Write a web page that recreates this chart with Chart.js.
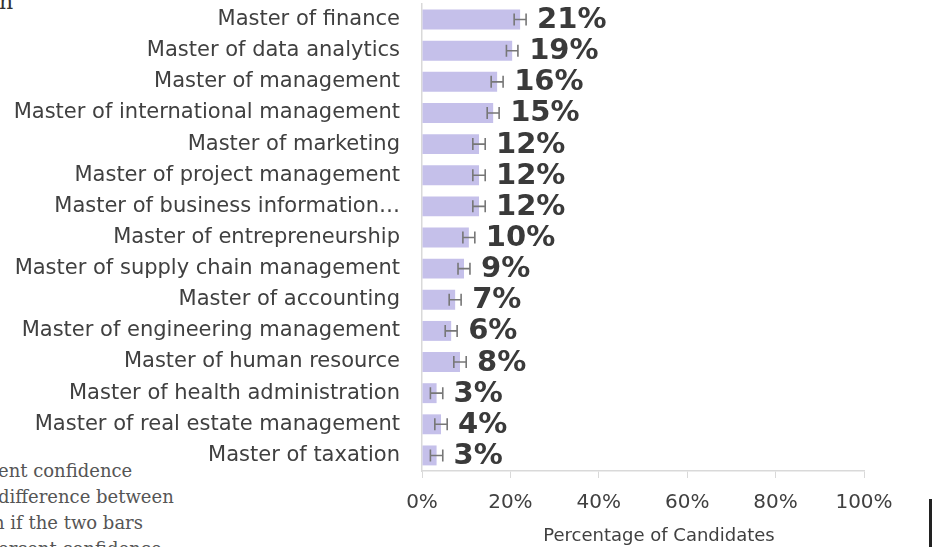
<!DOCTYPE html>
<html>
<head>
<meta charset="utf-8">
<script src="https://cdn.jsdelivr.net/npm/chart.js@4.4.1/dist/chart.umd.min.js"></script>
<style>
  html, body { margin: 0; padding: 0; background: #fff; }
  #wrap { position: relative; width: 932px; height: 547px; overflow: hidden; }
  #chart { position: absolute; left: 0; top: 0; }
  .serif { position: absolute; font-family: "DejaVu Serif", serif; color: #555; white-space: nowrap; }
  #cut-title { left: -1px; top: -9px; font-size: 22px; line-height: 22px; color: #333; }
  #note { left: 0; top: 458px; font-size: 18px; line-height: 26px; }
  #bar-edge { position: absolute; left: 929px; top: 499px; width: 3px; height: 48px; background: #222; }
</style>
</head>
<body>
<div id="wrap">
  <div class="serif" id="cut-title">n</div>
  <div class="serif" id="note">
    <div style="margin-left:-2px">ent confidence</div>
    <div style="margin-left:-2px">difference between</div>
    <div style="margin-left:-7px">n if the two bars</div>
    <div style="margin-left:-2px">ercent confidence</div>
  </div>
  <canvas id="chart" width="932" height="547"></canvas>
  <div id="bar-edge"></div>
</div>
<script>
// programs, top to bottom
const programas = [
  "Master of finance",
  "Master of data analytics",
  "Master of management",
  "Master of international management",
  "Master of marketing",
  "Master of project management",
  "Master of business information…",
  "Master of entrepreneurship",
  "Master of supply chain management",
  "Master of accounting",
  "Master of engineering management",
  "Master of human resource",
  "Master of health administration",
  "Master of real estate management",
  "Master of taxation"
];
// bar lengths (%)
const barras = [22.2, 20.4, 17.0, 16.1, 12.9, 12.9, 12.9, 10.6, 9.5, 7.5, 6.6, 8.6, 3.3, 4.3, 3.3];
// printed labels (%)
const etiquetas = [21, 19, 16, 15, 12, 12, 12, 10, 9, 7, 6, 8, 3, 4, 3];
// half width of the confidence interval (%)
const errores = [1.35, 1.3, 1.35, 1.35, 1.4, 1.4, 1.4, 1.35, 1.35, 1.35, 1.35, 1.4, 1.4, 1.4, 1.4];
const ticksX = [0, 20, 40, 60, 80, 100];
const tituloX = "Percentage of Candidates";

const gris = "#404040";

const extras = {
  id: "extras",
  afterDatasetsDraw(chart) {
    const ctx = chart.ctx;
    const x = chart.scales.x;
    const meta = chart.getDatasetMeta(0);
    ctx.save();
    meta.data.forEach((bar, i) => {
      const y = bar.y;
      const xl = x.getPixelForValue(barras[i] - errores[i]);
      const xr = x.getPixelForValue(barras[i] + errores[i]);
      ctx.strokeStyle = "#777";
      ctx.lineWidth = 1.6;
      ctx.beginPath();
      ctx.moveTo(xl, y); ctx.lineTo(xr, y);
      ctx.moveTo(xl, y - 6); ctx.lineTo(xl, y + 6);
      ctx.moveTo(xr, y - 6); ctx.lineTo(xr, y + 6);
      ctx.stroke();

      ctx.fillStyle = "#3a3a3a";
      ctx.font = "bold 29px 'DejaVu Sans'";
      ctx.textAlign = "left";
      ctx.textBaseline = "middle";
      ctx.fillText(etiquetas[i] + "%", bar.x + 17, y + 1);
    });
    // axis title
    ctx.fillStyle = gris;
    ctx.font = "18px 'DejaVu Sans'";
    ctx.textAlign = "center";
    ctx.textBaseline = "alphabetic";
    ctx.fillText(tituloX, (x.left + x.right) / 2 + 16, 541);
    ctx.restore();
  }
};

new Chart(document.getElementById("chart"), {
  type: "bar",
  data: {
    labels: programas,
    datasets: [{
      data: barras,
      backgroundColor: "#c5c0ea",
      borderWidth: 0,
      barPercentage: 0.64,
      categoryPercentage: 1
    }]
  },
  options: {
    indexAxis: "y",
    responsive: false,
    animation: false,
    layout: { padding: { top: 4, right: 68, bottom: 0, left: 0 } },
    plugins: { legend: { display: false }, tooltip: { enabled: false } },
    scales: {
      x: {
        min: 0,
        max: 100,
        afterFit(scale) { scale.height = 76; },
        afterBuildTicks(scale) { scale.ticks = ticksX.map(v => ({ value: v })); },
        ticks: {
          callback: v => v + "%",
          color: gris,
          font: { family: "DejaVu Sans", size: 20 },
          padding: 13,
          maxRotation: 0
        },
        grid: { drawOnChartArea: false, drawTicks: true, tickLength: 7, color: "#d9d9d9" },
        border: { color: "#d9d9d9", width: 1.5 }
      },
      y: {
        afterFit(scale) {
          scale.width = 422;
          scale.paddingTop = 0;
          scale.paddingBottom = 0;
        },
        ticks: {
          color: gris,
          font: { family: "DejaVu Sans", size: 21 },
          padding: 22,
          autoSkip: false
        },
        grid: { display: false, drawTicks: false },
        border: { color: "#d9d9d9", width: 1.5 }
      }
    }
  },
  plugins: [extras]
});
</script>
</body>
</html>
